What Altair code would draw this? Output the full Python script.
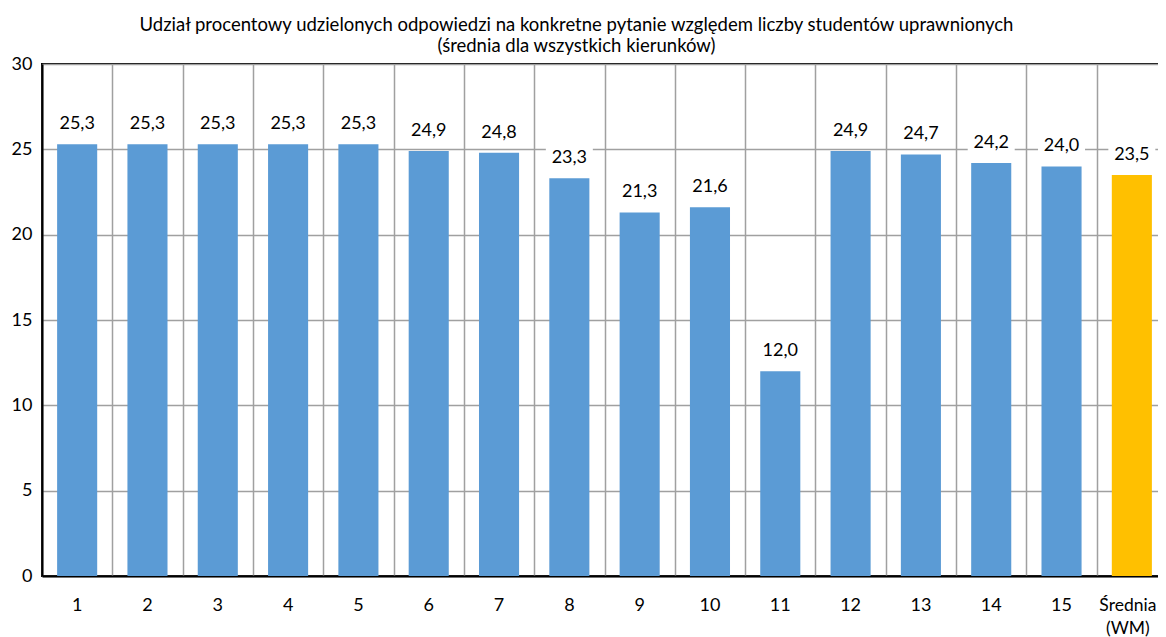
import altair as alt
import pandas as pd

categories = ["1", "2", "3", "4", "5", "6", "7", "8", "9", "10", "11", "12", "13", "14", "15", "Średnia (WM)"]
values = [25.3, 25.3, 25.3, 25.3, 25.3, 24.9, 24.8, 23.3, 21.3, 21.6, 12.0, 24.9, 24.7, 24.2, 24.0, 23.5]
kinds = ["kierunek"] * 15 + ["średnia"]

title_lines = [
    "Udział procentowy udzielonych odpowiedzi na konkretne pytanie względem liczby studentów uprawnionych",
    "(średnia dla wszystkich kierunków)",
]

df = pd.DataFrame({"cat": categories, "val": values, "kind": kinds})

FONT = "Lato"
NUM_SIZE = 18
GRID = "#A0A0A0"
LAST_TEST = "datum.value == '" + categories[-1] + "'"

y = alt.Y(
    "val:Q",
    title=None,
    scale=alt.Scale(domain=[0, 30], nice=False),
    axis=alt.Axis(
        values=[0, 5, 10, 15, 20, 25, 30],
        grid=True,
        ticks=False,
        tickSize=0,
        domain=True,
        domainColor="#000000",
        domainWidth=2,
        labelFont=FONT,
        labelFontSize=NUM_SIZE,
        labelColor="#000000",
        labelPadding=10,
        gridColor=GRID,
        gridWidth=1.5,
    ),
)

base = alt.Chart(df).transform_calculate(
    lab="replace(format(datum.val, '.1f'), '.', ',')"
)

# vertical separators between categories (band boundaries)
grid = base.mark_tick(opacity=0).encode(
    x=alt.X(
        "cat:N",
        sort=categories,
        title=None,
        scale=alt.Scale(paddingInner=0, paddingOuter=0),
        axis=alt.Axis(
            orient="top",
            grid=True,
            tickBand="extent",
            labels=False,
            ticks=False,
            domain=False,
            title=None,
            gridColor=GRID,
            gridWidth=1.5,
        ),
    ),
    y=y,
)

x = alt.X(
    "cat:N",
    sort=categories,
    title=None,
    scale=alt.Scale(paddingInner=0.43, paddingOuter=0.215),
    axis=alt.Axis(
        grid=False,
        ticks=False,
        tickSize=0,
        domain=True,
        domainColor="#000000",
        domainWidth=2,
        labelAngle=0,
        labelFont=FONT,
        labelFontSize={"condition": {"test": LAST_TEST, "value": 17.5}, "value": NUM_SIZE},
        labelOffset={"condition": {"test": LAST_TEST, "value": -4}, "value": 0},
        labelColor="#000000",
        labelPadding=20,
        labelLineHeight=23,
        labelBound=False,
        labelExpr="split(datum.label, ' ')",
    ),
)

bars = base.mark_bar().encode(
    x=x,
    y=alt.Y("val:Q"),
    color=alt.Color(
        "kind:N",
        scale=alt.Scale(domain=["kierunek", "średnia"], range=["#5B9BD5", "#FFC000"]),
        legend=None,
    ),
)

boxes = base.mark_tick(color="#FFFFFF", opacity=1, thickness=24, size=47, yOffset=-21).encode(
    x=alt.X("cat:N", sort=categories),
    y=alt.Y("val:Q"),
)

labels = base.mark_text(
    font=FONT, fontSize=NUM_SIZE, color="#000000", baseline="alphabetic", dy=-15
).encode(
    x=alt.X("cat:N", sort=categories),
    y=alt.Y("val:Q"),
    text="lab:N",
)

main = alt.layer(bars, boxes, labels)

chart = (
    alt.layer(grid, main)
    .resolve_scale(x="independent")
    .resolve_axis(x="independent")
    .properties(
        width=1125,
        height=512,
        autosize=alt.AutoSizeParams(type="none"),
        padding={"left": 34, "top": 56, "right": -9, "bottom": 61},
        title=alt.Title(
            title_lines,
            font=FONT,
            fontSize=18.5,
            fontWeight="normal",
            color="#000000",
            anchor="middle",
            dx=-28,
            offset=0,
            lineHeight=21,
        ),
    )
    .configure_view(stroke="#000000", strokeWidth=2)
)

chart.save("out.html", embed_options={"renderer": "svg", "actions": False})
